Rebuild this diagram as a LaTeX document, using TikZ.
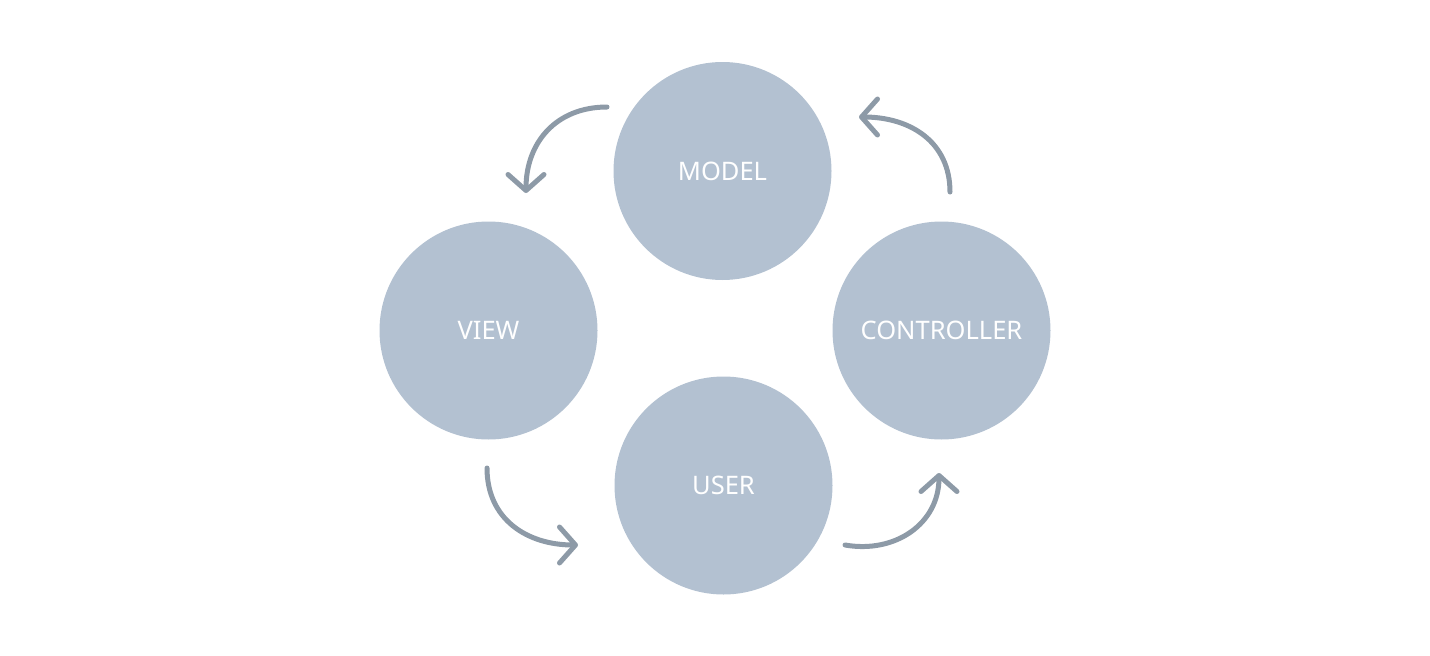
\documentclass[tikz,border=0pt]{standalone}
\usepackage{fontspec}
\setmainfont{Noto Sans}
\usetikzlibrary{arrows.meta}
\definecolor{circlefill}{HTML}{B3C1D1}
\definecolor{arrowgray}{HTML}{8D9AA7}
\begin{document}
\begin{tikzpicture}
	[x=1pt, y=1pt,
	 part/.style={circle, fill=circlefill, minimum size=218pt, inner sep=0pt,
	              text=white, font=\fontsize{25.5}{28}\selectfont},
	 flow/.style={draw=arrowgray, line width=5pt, line cap=round,
	              -{Straight Barb[length=16pt, width=36pt, round]}}]
	\useasboundingbox (0,0) rectangle (1430,-656);
	\node[part] (model) at (722.5,-171) {MODEL};
	\node[part] (view) at (488.5,-330.5) {VIEW};
	\node[part] (controller) at (941.5,-330.5) {CONTROLLER};
	\node[part] (user) at (723.5,-485.5) {USER};
	\coordinate (mv1) at (607,-107);
	\coordinate (mv2) at (526,-193);
	\coordinate (vu1) at (487,-468);
	\coordinate (vu2) at (578,-545);
	\coordinate (uc1) at (845,-545);
	\coordinate (uc2) at (939,-473);
	\coordinate (cm1) at (950,-192);
	\coordinate (cm2) at (859,-117);
	\draw[flow] (mv1) to[out=180, in=90, looseness=1.1] (mv2);
	\draw[flow] (vu1) to[out=-90, in=180, looseness=1.1] (vu2);
	\draw[flow] (uc1) to[out=-10, in=-90, looseness=1.1] (uc2);
	\draw[flow] (cm1) to[out=90, in=0, looseness=1.1] (cm2);
\end{tikzpicture}
\end{document}
